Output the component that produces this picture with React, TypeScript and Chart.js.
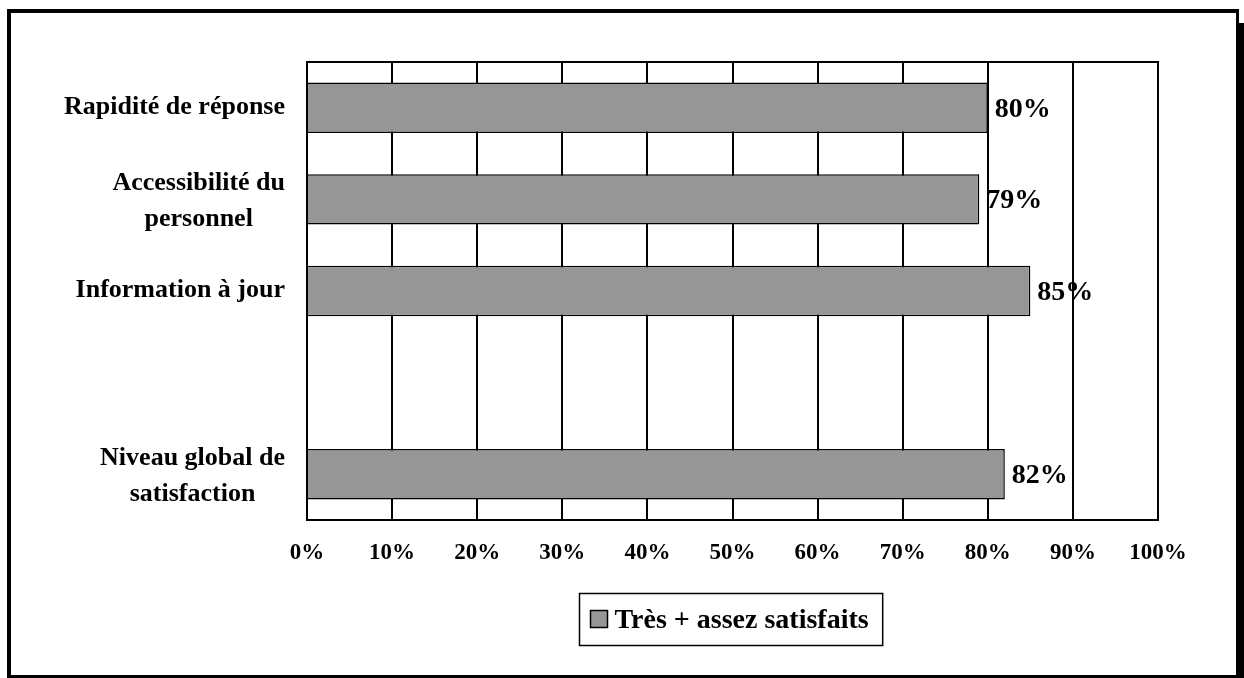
import React, { useEffect, useRef } from "react";
import { Chart, registerables } from "chart.js";

Chart.register(...registerables);

const categories: string[][] = [
  ["Rapidité de réponse"],
  ["Accessibilité du", "personnel"],
  ["Information à jour"],
  [""],
  ["Niveau global de", "satisfaction"],
];
const seriesLabel = "Très + assez satisfaits";
const seriesValues: (number | null)[] = [80, 79, 85, null, 82];
const xTicks: number[] = [0, 10, 20, 30, 40, 50, 60, 70, 80, 90, 100];

const FONT = "'Liberation Serif', 'Times New Roman', serif";
const BAR_COLOR = "#969696";

const customDraw = {
  id: "customDraw",
  beforeDatasetsDraw(chart: any) {
    const { ctx, chartArea } = chart;
    ctx.save();
    ctx.strokeStyle = "#000";
    ctx.lineWidth = 2;
    ctx.strokeRect(chartArea.left, chartArea.top, chartArea.right - chartArea.left, chartArea.bottom - chartArea.top);
    ctx.restore();
  },
  afterDatasetsDraw(chart: any) {
    const { ctx } = chart;
    const meta = chart.getDatasetMeta(0);
    const data = chart.data.datasets[0].data;
    ctx.save();
    ctx.fillStyle = "#000";
    ctx.font = `bold 28px ${FONT}`;
    ctx.textAlign = "left";
    ctx.textBaseline = "alphabetic";
    meta.data.forEach((el: any, i: number) => {
      const v = data[i];
      if (v === null || v === undefined) return;
      ctx.fillText(v + "%", el.x + 7, el.y + 9);
    });
    ctx.restore();
  },
  afterDraw(chart: any) {
    const { ctx, chartArea } = chart;
    const yScale = chart.scales.y;
    const labels = chart.data.labels as string[][];
    ctx.save();
    ctx.fillStyle = "#000";
    ctx.font = `bold 26px ${FONT}`;
    ctx.textAlign = "center";
    ctx.textBaseline = "alphabetic";
    const right = chartArea.left - 22;
    const lineH = 36;
    labels.forEach((lines, i) => {
      const yc = yScale.getPixelForValue(i);
      const w = Math.max(...lines.map((l) => ctx.measureText(l).width));
      const cx = right - w / 2;
      const n = lines.length;
      const off = n > 1 ? 9 : 6;
      lines.forEach((l, j) => {
        ctx.fillText(l, cx, yc + off + (j - (n - 1) / 2) * lineH);
      });
    });

    // legend
    ctx.font = `bold 28px ${FONT}`;
    const text = chart.data.datasets[0].label;
    const tw = ctx.measureText(text).width;
    const boxW = 11 + 17 + 7 + tw + 14;
    const boxH = 52;
    const cx = (chartArea.left + chartArea.right) / 2 - 2;
    const bx = Math.round(cx - boxW / 2) + 0.5;
    const by = chartArea.bottom + 73 + 0.5;
    ctx.lineWidth = 1.5;
    ctx.strokeStyle = "#000";
    ctx.strokeRect(bx, by, boxW, boxH);
    ctx.fillStyle = BAR_COLOR;
    ctx.fillRect(bx + 11, by + 17, 17, 17);
    ctx.lineWidth = 1.5;
    ctx.strokeRect(bx + 11, by + 17, 17, 17);
    ctx.fillStyle = "#000";
    ctx.textAlign = "left";
    ctx.fillText(text, bx + 35, by + 34);
    ctx.restore();
  },
};

export default function App() {
  const ref = useRef<HTMLCanvasElement>(null);
  useEffect(() => {
    if (!ref.current) return;
    const chart = new Chart(ref.current, {
      type: "bar",
      data: {
        labels: categories as any,
        datasets: [
          {
            label: seriesLabel,
            data: seriesValues,
            backgroundColor: BAR_COLOR,
            borderColor: "#000",
            borderWidth: 1.5,
            barPercentage: 0.55,
            categoryPercentage: 1,
          },
        ],
      },
      options: {
        indexAxis: "y",
        animation: false,
        responsive: false,
        devicePixelRatio: 1,
        layout: { padding: { top: 62, right: 86, left: 0, bottom: 0 } },
        plugins: {
          legend: { display: false },
          tooltip: { enabled: false },
        },
        scales: {
          x: {
            min: 0,
            max: 100,
            afterBuildTicks: (scale: any) => {
              scale.ticks = xTicks.map((v) => ({ value: v }));
            },
            afterFit: (scale: any) => {
              scale.height = 158;
            },
            ticks: {
              callback: (v: any) => v + "%",
              color: "#000",
              font: { family: FONT, size: 23, weight: "bold" },
              padding: 19,
              maxRotation: 0,
              autoSkip: false,
            },
            grid: { color: "#000", lineWidth: 2, drawTicks: false },
            border: { display: false },
          },
          y: {
            afterFit: (scale: any) => {
              scale.width = 307;
            },
            ticks: { display: false },
            grid: { display: false, drawTicks: false },
            border: { display: false },
          },
        },
      },
      plugins: [customDraw],
    });
    return () => chart.destroy();
  }, []);

  return (
    <div style={{ position: "fixed", left: 0, top: 0, width: 1244, height: 678, overflow: "hidden", background: "#fff" }}>
      <div
        style={{
          position: "absolute",
          left: 7,
          top: 9,
          width: 1232,
          height: 669,
          boxSizing: "border-box",
          borderStyle: "solid",
          borderColor: "#000",
          borderWidth: "4px 3px 3px 4px",
          boxShadow: "6px 14px 0 0 #000",
        }}
      />
      <canvas ref={ref} width={1244} height={678} style={{ position: "absolute", left: 0, top: 0, width: 1244, height: 678 }} />
    </div>
  );
}
